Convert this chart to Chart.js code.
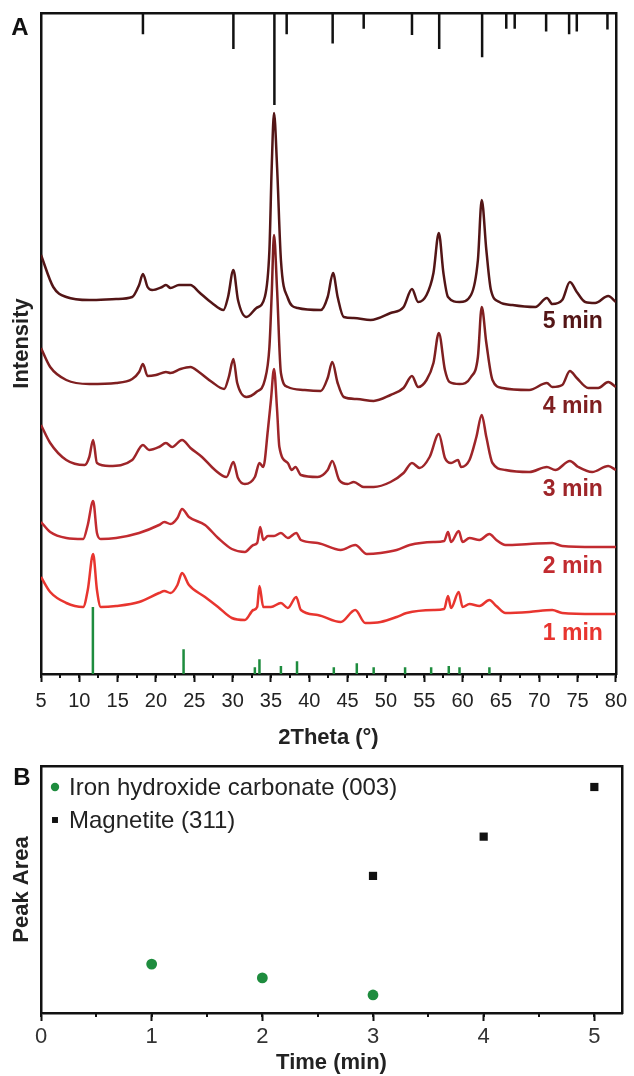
<!DOCTYPE html>
<html>
<head>
<meta charset="utf-8">
<script src="https://cdn.jsdelivr.net/npm/chart.js@4.4.1/dist/chart.umd.min.js"></script>
<style>
  html, body { margin: 0; padding: 0; background: #fff; }
  canvas { display: block; }
</style>
</head>
<body>
<canvas id="chartA" width="634" height="760"></canvas>
<canvas id="chartB" width="634" height="316"></canvas>
<script>
// ---- panel A : XRD patterns, [2theta, intensity (a.u., stacked)] ----
const pattern5min = [[5.0,419],[6.6,387],[8.3,377],[11.3,374],[14.8,375],[16.9,377],[17.8,389],[18.3,400],[18.9,387],[19.5,384],[20.8,387],[21.3,389],[21.9,386],[23.0,389],[24.5,389],[25.6,382],[27.3,371],[28.8,364],[29.4,377],[30.1,404],[30.7,374],[31.8,357],[33.1,366],[34.2,377],[34.8,424],[35.1,507],[35.4,561],[35.8,507],[36.3,414],[37.2,376],[38.5,366],[41.5,364],[42.4,377],[43.1,401],[43.7,377],[44.5,357],[45.8,356],[48.0,354],[50.6,361],[52.3,367],[53.4,385],[54.2,372],[55.3,379],[56.2,401],[56.9,441],[57.5,401],[58.1,377],[59.6,372],[61.1,379],[62.0,414],[62.5,474],[63.1,424],[63.7,384],[64.8,372],[66.5,369],[69.5,367],[71.0,376],[71.7,370],[73.0,374],[74.0,392],[74.9,382],[76.0,372],[77.3,371],[79.0,378],[80.0,372]];
const pattern4min = [[5.0,326],[6.2,307],[8.3,294],[11.3,290],[14.8,291],[16.9,295],[17.8,302],[18.3,310],[18.9,298],[20.0,299],[21.3,302],[21.9,301],[23.2,305],[24.5,307],[25.6,302],[27.3,292],[28.9,285],[29.5,297],[30.1,315],[30.6,291],[31.8,277],[33.1,282],[34.2,294],[34.8,327],[35.1,380],[35.4,439],[35.8,384],[36.3,301],[37.2,287],[39.4,284],[41.5,283],[42.4,296],[43.0,312],[43.7,291],[44.5,277],[46.2,275],[48.4,273],[50.6,279],[52.3,286],[53.4,298],[54.2,287],[55.3,294],[56.2,311],[56.9,341],[57.7,304],[58.3,292],[59.6,290],[61.1,297],[62.0,317],[62.5,367],[63.1,331],[63.9,294],[65.2,286],[68.7,284],[71.0,291],[71.7,287],[73.0,289],[74.0,303],[74.9,296],[76.4,286],[77.7,286],[79.0,292],[80.0,287]];
const pattern3min = [[5.0,249],[6.2,231],[8.3,214],[10.7,209],[11.3,217],[11.8,234],[12.3,211],[13.9,208],[16.9,214],[18.3,229],[19.1,224],[20.4,227],[21.3,231],[22.1,227],[23.4,234],[24.5,226],[26.0,217],[27.7,204],[29.2,197],[30.1,212],[30.7,196],[31.6,190],[32.9,197],[33.5,211],[34.0,207],[34.6,244],[35.0,274],[35.4,305],[35.8,264],[36.1,227],[37.2,211],[37.7,204],[38.2,207],[38.9,199],[41.1,197],[42.4,204],[43.0,213],[43.9,194],[45.0,190],[45.8,192],[47.1,187],[48.4,187],[50.6,192],[52.3,201],[53.4,211],[54.4,206],[55.7,217],[56.9,240],[57.7,216],[58.5,211],[59.4,214],[59.8,207],[60.9,214],[61.8,237],[62.5,259],[63.1,237],[63.9,211],[65.6,204],[68.7,202],[71.0,207],[72.1,204],[74.0,213],[75.1,207],[76.9,202],[79.0,208],[80.0,204]];
const pattern2min = [[5.0,152],[6.2,142],[8.3,136],[10.5,135],[11.1,149],[11.8,173],[12.3,141],[12.8,135],[14.8,136],[17.8,141],[20.4,149],[21.1,152],[21.9,150],[22.8,156],[23.4,165],[24.3,157],[26.4,149],[28.1,136],[29.9,125],[31.6,122],[32.7,129],[33.2,131],[33.6,147],[34.0,134],[34.6,138],[35.4,138],[36.3,141],[37.2,136],[38.3,141],[38.9,134],[41.1,131],[44.1,124],[46.0,129],[47.5,120],[49.3,121],[51.4,124],[53.1,129],[56.2,132],[57.6,133],[58.1,142],[58.5,132],[59.5,143],[60.0,132],[60.9,136],[62.2,134],[63.5,140],[64.4,134],[65.6,129],[68.7,130],[71.7,131],[73.0,128],[77.3,127],[80.0,127]];
const pattern1min = [[5.0,97],[6.2,82],[8.3,71],[10.5,67],[11.1,84],[11.8,120],[12.3,84],[12.8,67],[14.8,68],[17.8,72],[20.4,81],[21.1,83],[21.9,81],[22.8,89],[23.4,101],[24.3,89],[26.4,77],[28.1,67],[29.9,56],[31.6,54],[32.7,64],[33.2,67],[33.5,88],[34.0,67],[35.0,67],[36.3,71],[37.2,66],[38.3,77],[38.9,64],[41.1,59],[44.1,52],[46.0,64],[47.3,51],[49.3,52],[51.4,57],[52.7,61],[56.2,64],[57.6,65],[58.1,78],[58.5,66],[59.5,82],[60.0,67],[60.9,70],[62.2,68],[63.5,74],[64.4,68],[65.6,61],[68.7,62],[71.7,64],[73.0,61],[77.3,60],[80.0,60]];
const traceNames = ['5 min', '4 min', '3 min', '2 min', '1 min'];
const traceColors = ['#531516', '#7f1f20', '#9e2529', '#c22b30', '#e8352f'];

// reference patterns (relative intensity %)
const magnetitePos = [18.3, 30.1, 35.45, 37.05, 43.05, 47.1, 53.4, 56.95, 62.55, 65.7, 66.8, 70.9, 73.9, 74.9, 78.9];
const magnetiteRel = [23, 39, 100, 23, 33, 17, 24, 39, 48, 17, 17, 20, 23, 20, 18];
const carbonatePos = [11.77, 23.6, 32.9, 33.5, 36.3, 38.4, 43.2, 46.2, 48.4, 52.5, 55.9, 58.2, 59.6, 63.5];
const carbonateRel = [100, 37, 10, 22, 12, 19, 10, 16, 10, 10, 10, 12, 10, 10];
const thetaTicks = [5, 10, 15, 20, 25, 30, 35, 40, 45, 50, 55, 60, 65, 70, 75, 80];

// ---- panel B : peak areas ----
const carbonateTime = [1, 2, 3];
const carbonateArea = [19.8, 14.2, 7.3];
const magnetiteTime = [3, 4, 5];
const magnetiteArea = [55.5, 71.4, 91.5];
const timeTicks = [0, 1, 2, 3, 4, 5];

const FONT = "'Liberation Sans', Arial, sans-serif";
Chart.defaults.font.family = FONT;
Chart.defaults.color = '#222';

// chuyen cac cap [x,y] thanh diem
function toPoints(arr) {
  return arr.map(p => ({ x: p[0], y: p[1] }));
}
// vach tham chieu: moi vach la 1 doan thang, ngat bang null
function toSticks(pos, rel) {
  const out = [];
  pos.forEach((p, i) => {
    out.push({ x: p, y: 0 }, { x: p, y: rel[i] }, { x: p, y: null });
  });
  return out;
}
// truc chi de ve khung
function frameAxis(position, axis) {
  return {
    type: 'linear', position: position, axis: axis,
    ticks: { display: false },
    grid: { display: false, drawTicks: false },
    border: { display: true, color: '#111', width: 2.5 },
    afterFit: s => { if (axis === 'x') s.height = 0; else s.width = 0; }
  };
}

const minorTicks = {
  id: 'minorTicks',
  afterDraw(chart, args, opts) {
    const s = chart.scales.x, ctx = chart.ctx;
    ctx.save();
    ctx.strokeStyle = '#111';
    ctx.lineWidth = 2;
    for (let v = s.min; v <= s.max + 1e-9; v += opts.step) {
      const px = Math.round(s.getPixelForValue(v));
      ctx.beginPath();
      ctx.moveTo(px, s.top);
      ctx.lineTo(px, s.top + opts.length);
      ctx.stroke();
    }
    ctx.restore();
  }
};

const panelLetter = {
  id: 'panelLetter',
  afterDraw(chart, args, opts) {
    const ctx = chart.ctx;
    ctx.save();
    ctx.font = 'bold 24px ' + FONT;
    ctx.fillStyle = '#111';
    ctx.textAlign = 'center';
    ctx.textBaseline = 'middle';
    ctx.fillText(opts.text, opts.x, opts.y);
    ctx.restore();
  }
};

const traceLabels = {
  id: 'traceLabels',
  afterDatasetsDraw(chart) {
    const ctx = chart.ctx, area = chart.chartArea, y = chart.scales.y;
    ctx.save();
    ctx.font = 'bold 23px ' + FONT;
    ctx.textAlign = 'right';
    ctx.textBaseline = 'middle';
    chart.data.datasets.forEach(ds => {
      if (!ds.isTrace) return;
      const last = ds.data[ds.data.length - 1];
      ctx.fillStyle = ds.borderColor;
      ctx.fillText(ds.label, area.right - 13, y.getPixelForValue(last.y) + 20);
    });
    ctx.restore();
  }
};

const insideLegend = {
  id: 'insideLegend',
  afterDraw(chart, args, opts) {
    const ctx = chart.ctx, a = chart.chartArea;
    ctx.save();
    ctx.font = '24px ' + FONT;
    ctx.textAlign = 'left';
    ctx.textBaseline = 'middle';
    chart.data.datasets.forEach((ds, i) => {
      const y = a.top + opts.top + i * opts.rowGap;
      ctx.fillStyle = ds.backgroundColor;
      Chart.helpers.drawPoint(ctx, { pointStyle: ds.pointStyle, radius: opts.markerRadius, rotation: 0, borderWidth: 0 }, a.left + opts.left, y);
      ctx.fillStyle = '#222';
      ctx.fillText(ds.label, a.left + opts.textLeft, y + 1);
    });
    ctx.restore();
  }
};

// ---- chart A ----
const patterns = [pattern5min, pattern4min, pattern3min, pattern2min, pattern1min];
const traceSets = patterns.map((p, i) => ({
  label: traceNames[i],
  isTrace: true,
  data: toPoints(p),
  borderColor: traceColors[i],
  borderWidth: 2.5,
  cubicInterpolationMode: 'monotone',
  borderJoinStyle: 'round',
  pointRadius: 0,
  yAxisID: 'y'
}));

new Chart(document.getElementById('chartA'), {
  type: 'line',
  data: {
    datasets: traceSets.concat([
      {
        label: 'Magnetite ref',
        data: toSticks(magnetitePos, magnetiteRel),
        borderColor: '#111', borderWidth: 2.5, pointRadius: 0, spanGaps: false,
        yAxisID: 'yRefTop'
      },
      {
        label: 'Iron hydroxide carbonate ref',
        data: toSticks(carbonatePos, carbonateRel),
        borderColor: '#1e8c3e', borderWidth: 2.5, pointRadius: 0, spanGaps: false,
        yAxisID: 'yRefBottom'
      }
    ])
  },
  options: {
    responsive: false,
    animation: false,
    layout: { padding: { top: 13, right: 13, left: 0, bottom: 0 } },
    plugins: {
      legend: { display: false },
      tooltip: { enabled: false },
      minorTicks: { step: 2.5, length: 4 },
      panelLetter: { text: 'A', x: 20, y: 28 }
    },
    scales: {
      x: {
        type: 'linear', min: 5, max: 80,
        afterBuildTicks: s => { s.ticks = thetaTicks.map(v => ({ value: v })); },
        ticks: { font: { size: 20 }, color: '#222', padding: 7, maxRotation: 0, autoSkip: false },
        grid: { display: true, drawOnChartArea: false, drawTicks: true, tickLength: 8, tickWidth: 2, tickColor: '#111' },
        border: { color: '#111', width: 2.5 },
        title: { display: true, text: '2Theta (°)', font: { size: 22, weight: 'bold' }, color: '#222', padding: { top: 4, bottom: 9 } },
        afterFit: s => { s.height = 86; }
      },
      y: {
        type: 'linear', min: 0, max: 661,
        ticks: { display: false },
        grid: { display: false, drawTicks: false },
        border: { color: '#111', width: 2.5 },
        title: { display: true, text: 'Intensity', font: { size: 22, weight: 'bold' }, color: '#222', padding: { top: 9, bottom: 0 } },
        afterFit: s => { s.width = 41; }
      },
      yRefTop: { type: 'linear', axis: 'y', position: 'left', display: false, reverse: true, min: 0, max: 718 },
      yRefBottom: { type: 'linear', axis: 'y', position: 'left', display: false, min: 0, max: 987 },
      xTop: frameAxis('top', 'x'),
      yRight: frameAxis('right', 'y')
    }
  },
  plugins: [minorTicks, panelLetter, traceLabels]
});

// ---- chart B ----
new Chart(document.getElementById('chartB'), {
  type: 'scatter',
  data: {
    datasets: [
      {
        label: 'Iron hydroxide carbonate (003)',
        data: carbonateTime.map((t, i) => ({ x: t, y: carbonateArea[i] })),
        pointStyle: 'circle', pointRadius: 5.4, borderWidth: 0,
        backgroundColor: '#1e8c3e', pointBackgroundColor: '#1e8c3e'
      },
      {
        label: 'Magnetite (311)',
        data: magnetiteTime.map((t, i) => ({ x: t, y: magnetiteArea[i] })),
        pointStyle: 'rect', pointRadius: 5.8, borderWidth: 0,
        backgroundColor: '#111', pointBackgroundColor: '#111'
      }
    ]
  },
  options: {
    responsive: false,
    animation: false,
    layout: { padding: { top: 6, right: 12, left: 0, bottom: 0 } },
    plugins: {
      legend: { display: false },
      tooltip: { enabled: false },
      minorTicks: { step: 0.5, length: 4 },
      panelLetter: { text: 'B', x: 22, y: 18 },
      insideLegend: { left: 14, textLeft: 28, top: 21, rowGap: 33, markerRadius: 4.2 }
    },
    scales: {
      x: {
        type: 'linear', min: 0, max: 5.25,
        afterBuildTicks: s => { s.ticks = timeTicks.map(v => ({ value: v })); },
        ticks: { font: { size: 22 }, color: '#333', padding: 3, maxRotation: 0, autoSkip: false },
        grid: { display: true, drawOnChartArea: false, drawTicks: true, tickLength: 8, tickWidth: 2, tickColor: '#111' },
        border: { color: '#111', width: 2.5 },
        title: { display: true, text: 'Time (min)', font: { size: 22, weight: 'bold' }, color: '#222', padding: { top: 0, bottom: 0 } },
        afterFit: s => { s.height = 63; }
      },
      y: {
        type: 'linear', min: 0, max: 100,
        ticks: { display: false },
        grid: { display: false, drawTicks: false },
        border: { color: '#111', width: 2.5 },
        title: { display: true, text: 'Peak Area', font: { size: 22, weight: 'bold' }, color: '#222', padding: { top: 9, bottom: 0 } },
        afterFit: s => { s.width = 41; }
      },
      xTop: frameAxis('top', 'x'),
      yRight: frameAxis('right', 'y')
    }
  },
  plugins: [minorTicks, panelLetter, insideLegend]
});
</script>
</body>
</html>
